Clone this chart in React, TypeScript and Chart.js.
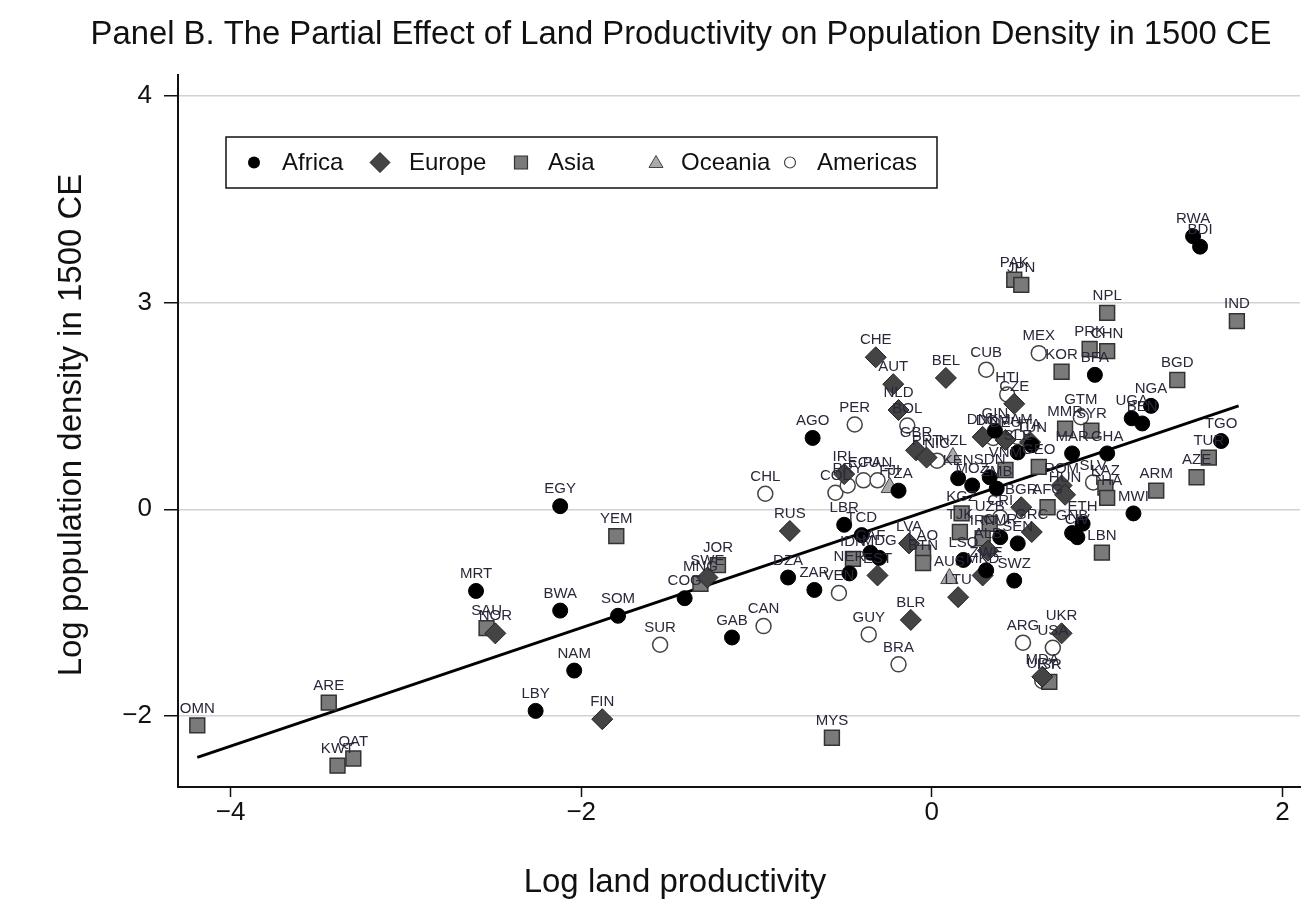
import React, { useEffect, useRef } from "react";
import { Chart, registerables } from "chart.js";

Chart.register(...registerables);

const FONT = '"Liberation Sans", Arial, Helvetica, sans-serif';

const titleText = "Panel B. The Partial Effect of Land Productivity on Population Density in 1500 CE";
const xTitle = "Log land productivity";
const yTitle = "Log population density in 1500 CE";

const xTickValues = [-4, -2, 0, 2];
const xTickLabels = ["\u22124", "\u22122", "0", "2"];
const yTickValues = [-2, 0, 2, 4];
const yTickLabels = ["\u22122", "0", "3", "4"];

const legendNames = ["Africa", "Europe", "Asia", "Oceania", "Americas"];

const africaLabels = ["EGY","MRT","BWA","SOM","NAM","LBY","COG","GAB","DZA","ZAR","LBR","TCD","CAF","MDG","NER","AGO","TZA","KEN","BFA","NGA","UGA","BEN","TGO","RWA","BDI","GHA","MAR","MWI","SWZ","ETH","GNB","CIV","CMR","SEN","ZWE","LSO","GIN","SLE","TUN","SDN","MOZ","ZMB"];
const africaX = [-2.12,-2.60,-2.12,-1.79,-2.04,-2.26,-1.41,-1.14,-0.82,-0.67,-0.50,-0.40,-0.35,-0.30,-0.47,-0.68,-0.19,0.15,0.93,1.25,1.14,1.20,1.65,1.49,1.53,1.00,0.80,1.15,0.47,0.86,0.80,0.83,0.39,0.49,0.31,0.18,0.36,0.49,0.57,0.33,0.23,0.37];
const africaY = [0.03,-0.79,-0.98,-1.03,-1.56,-1.95,-0.86,-1.24,-0.66,-0.78,-0.15,-0.25,-0.42,-0.47,-0.62,0.69,0.18,0.30,1.30,1.00,0.88,0.83,0.66,2.64,2.54,0.54,0.54,-0.04,-0.69,-0.14,-0.23,-0.27,-0.27,-0.33,-0.59,-0.49,0.76,0.55,0.62,0.31,0.23,0.20];

const europeLabels = ["NOR","FIN","SWE","RUS","CHE","AUT","BEL","NLD","GBR","PRT","IRL","EST","LVA","BLR","UKR","MDA","DNK","DEU","CZE","ITA","ROM","HUN","BGR","GRC","ALB","MKD","LTU"];
const europeX = [-2.49,-1.88,-1.28,-0.81,-0.32,-0.22,0.08,-0.19,-0.09,-0.03,-0.50,-0.31,-0.13,-0.12,0.74,0.63,0.29,0.42,0.47,0.56,0.74,0.76,0.51,0.57,0.32,0.29,0.15];
const europeY = [-1.20,-2.03,-0.66,-0.21,1.47,1.21,1.27,0.96,0.57,0.50,0.34,-0.64,-0.33,-1.07,-1.20,-1.62,0.70,0.67,1.02,0.65,0.23,0.14,0.02,-0.22,-0.40,-0.64,-0.85];

const asiaLabels = ["OMN","ARE","KWT","QAT","SAU","YEM","JOR","MNG","MYS","IDN","LAO","BTN","PAK","JPN","NPL","IND","PRK","CHN","KOR","BGD","TUR","AZE","ARM","LBN","MMR","SYR","KAZ","THA","VNM","GEO","UZB","KGZ","TJK","IRN","AFG","ISR"];
const asiaX = [-4.19,-3.44,-3.39,-3.30,-2.54,-1.80,-1.22,-1.32,-0.57,-0.45,-0.05,-0.05,0.47,0.51,1.00,1.74,0.90,1.00,0.74,1.40,1.58,1.51,1.28,0.97,0.76,0.91,0.99,1.00,0.42,0.61,0.33,0.17,0.16,0.29,0.66,0.67];
const asiaY = [-2.09,-1.87,-2.48,-2.41,-1.15,-0.26,-0.54,-0.72,-2.21,-0.48,-0.42,-0.52,2.22,2.17,1.90,1.82,1.55,1.53,1.33,1.25,0.50,0.31,0.18,-0.42,0.78,0.76,0.21,0.11,0.38,0.41,-0.14,-0.04,-0.22,-0.28,0.02,-1.67];

const oceaniaLabels = ["NZL","FJI","AUS"];
const oceaniaX = [0.12,-0.24,0.10];
const oceaniaY = [0.50,0.21,-0.67];

const americasLabels = ["SUR","CAN","CHL","GUY","BRA","VEN","PER","COL","PRY","ECU","PAN","BOL","NIC","CUB","HTI","MEX","GTM","DOM","JAM","SLV","CRI","ARG","USA","URY"];
const americasX = [-1.55,-0.96,-0.95,-0.36,-0.19,-0.53,-0.44,-0.55,-0.48,-0.39,-0.31,-0.14,0.03,0.31,0.43,0.61,0.85,0.35,0.49,0.92,0.39,0.52,0.69,0.63];
const americasY = [-1.31,-1.13,0.15,-1.21,-1.50,-0.81,0.82,0.16,0.23,0.28,0.28,0.81,0.47,1.35,1.11,1.51,0.89,0.69,0.70,0.26,-0.08,-1.29,-1.34,-1.66];

const fitX = [-4.19, 1.75];
const fitY = [-2.40, 1.00];

const toPoints = (xs: number[], ys: number[]) => xs.map((x, i) => ({ x, y: ys[i] }));

const labelPlugin = {
  id: "pointLabels",
  afterDatasetsDraw(chart: any) {
    const ctx = chart.ctx;
    ctx.save();
    ctx.font = `15px ${FONT}`;
    ctx.fillStyle = "#28283a";
    ctx.textAlign = "center";
    ctx.textBaseline = "middle";
    chart.data.datasets.forEach((ds: any, di: number) => {
      const labels = ds.pointLabels;
      if (!labels) return;
      const meta = chart.getDatasetMeta(di);
      meta.data.forEach((el: any, i: number) => {
        ctx.fillText(labels[i], el.x, el.y - 17);
      });
    });
    ctx.restore();
  },
};

const decorPlugin = {
  id: "decor",
  afterDraw(chart: any) {
    const ctx = chart.ctx;
    const ca = chart.chartArea;
    ctx.save();
    ctx.fillStyle = "#111";
    ctx.textAlign = "center";
    ctx.textBaseline = "middle";
    ctx.font = `32.8px ${FONT}`;
    ctx.fillText(titleText, 681, 35);
    ctx.font = `33px ${FONT}`;
    ctx.fillText(xTitle, 675, 883);
    ctx.save();
    ctx.translate(72, 425);
    ctx.rotate(-Math.PI / 2);
    ctx.fillText(yTitle, 0, 0);
    ctx.restore();

    // legend box
    const bx = ca.left + 48;
    const by = ca.top + 62;
    const bw = 711;
    const bh = 51;
    ctx.fillStyle = "#fff";
    ctx.fillRect(bx, by, bw, bh);
    ctx.strokeStyle = "#111";
    ctx.lineWidth = 1.5;
    ctx.strokeRect(bx, by, bw, bh);
    const cy = by + bh / 2;
    const markerX = [28, 154, 295, 430, 564];
    const textX = [56, 183, 322, 455, 591];
    ctx.font = `24px ${FONT}`;
    ctx.textAlign = "left";
    legendNames.forEach((name, i) => {
      const mx = bx + markerX[i];
      ctx.beginPath();
      if (i === 0) {
        ctx.arc(mx, cy, 6, 0, Math.PI * 2);
        ctx.fillStyle = "#000";
        ctx.fill();
      } else if (i === 1) {
        ctx.moveTo(mx - 10, cy);
        ctx.lineTo(mx, cy - 10);
        ctx.lineTo(mx + 10, cy);
        ctx.lineTo(mx, cy + 10);
        ctx.closePath();
        ctx.fillStyle = "#444";
        ctx.fill();
        ctx.strokeStyle = "#222";
        ctx.lineWidth = 1;
        ctx.stroke();
      } else if (i === 2) {
        ctx.rect(mx - 6.5, cy - 6.5, 13, 13);
        ctx.fillStyle = "#7a7a7a";
        ctx.fill();
        ctx.strokeStyle = "#333";
        ctx.lineWidth = 1.2;
        ctx.stroke();
      } else if (i === 3) {
        ctx.moveTo(mx, cy - 7);
        ctx.lineTo(mx + 7, cy + 5);
        ctx.lineTo(mx - 7, cy + 5);
        ctx.closePath();
        ctx.fillStyle = "#aaa";
        ctx.fill();
        ctx.strokeStyle = "#444";
        ctx.lineWidth = 1;
        ctx.stroke();
      } else {
        ctx.arc(mx, cy, 5.5, 0, Math.PI * 2);
        ctx.fillStyle = "#fff";
        ctx.fill();
        ctx.strokeStyle = "#444";
        ctx.lineWidth = 1.2;
        ctx.stroke();
      }
      ctx.fillStyle = "#111";
      ctx.fillText(name, bx + textX[i], cy + 1);
    });
    ctx.restore();
  },
};

export default function App() {
  const ref = useRef<HTMLCanvasElement | null>(null);
  useEffect(() => {
    document.body.style.margin = "0";
    document.body.style.background = "#fff";
    const canvas = ref.current;
    if (!canvas) return;
    const chart = new Chart(canvas, {
      type: "scatter",
      data: {
        datasets: [
          {
            label: "Africa",
            data: toPoints(africaX, africaY),
            pointStyle: "circle",
            pointRadius: 7.5,
            backgroundColor: "#000",
            borderColor: "#000",
            borderWidth: 1,
            pointLabels: africaLabels,
          } as any,
          {
            label: "Europe",
            data: toPoints(europeX, europeY),
            pointStyle: "rectRot",
            pointRadius: 10.5,
            backgroundColor: "#444",
            borderColor: "#222",
            borderWidth: 1,
            pointLabels: europeLabels,
          } as any,
          {
            label: "Asia",
            data: toPoints(asiaX, asiaY),
            pointStyle: "rect",
            pointRadius: 10.5,
            backgroundColor: "#7a7a7a",
            borderColor: "#333",
            borderWidth: 1.5,
            pointLabels: asiaLabels,
          } as any,
          {
            label: "Oceania",
            data: toPoints(oceaniaX, oceaniaY),
            pointStyle: "triangle",
            pointRadius: 10,
            backgroundColor: "#aaa",
            borderColor: "#444",
            borderWidth: 1,
            pointLabels: oceaniaLabels,
          } as any,
          {
            label: "Americas",
            data: toPoints(americasX, americasY),
            pointStyle: "circle",
            pointRadius: 7.5,
            backgroundColor: "#fff",
            borderColor: "#444",
            borderWidth: 1.5,
            pointLabels: americasLabels,
          } as any,
          {
            label: "Fit",
            type: "line",
            data: toPoints(fitX, fitY),
            borderColor: "#000",
            borderWidth: 3,
            pointRadius: 0,
            fill: false,
          } as any,
        ],
      },
      options: {
        animation: false,
        responsive: false,
        layout: { autoPadding: false, padding: { top: 75, right: 4, left: 0, bottom: 0 } },
        plugins: {
          legend: { display: false },
          tooltip: { enabled: false },
          title: { display: false },
        },
        scales: {
          x: {
            type: "linear",
            min: -4.3,
            max: 2.1,
            afterBuildTicks: (s: any) => {
              s.ticks = xTickValues.map((v) => ({ value: v }));
            },
            afterFit: (s: any) => {
              s.height = 118;
              s.paddingLeft = 0;
              s.paddingRight = 0;
            },
            ticks: {
              callback: (_v: any, i: number) => xTickLabels[i],
              font: { family: FONT, size: 26 },
              color: "#111",
              padding: 0,
              maxRotation: 0,
              autoSkip: false,
            },
            grid: { drawOnChartArea: false, tickLength: 10, tickColor: "#111", tickWidth: 1.5 },
            border: { color: "#111", width: 2 },
          },
          y: {
            type: "linear",
            min: -2.686,
            max: 4.2,
            afterBuildTicks: (s: any) => {
              s.ticks = yTickValues.map((v) => ({ value: v }));
            },
            afterFit: (s: any) => {
              s.width = 178;
              s.paddingTop = 0;
              s.paddingBottom = 0;
            },
            ticks: {
              callback: (_v: any, i: number) => yTickLabels[i],
              font: { family: FONT, size: 26 },
              color: "#111",
              padding: 12,
              autoSkip: false,
            },
            grid: { color: "#d2d2d2", lineWidth: 1.5, tickLength: 14, tickColor: "#111", tickWidth: 1.5 },
            border: { color: "#111", width: 2 },
          },
        },
      } as any,
      plugins: [labelPlugin, decorPlugin],
    });
    return () => chart.destroy();
  }, []);
  return (
    <div style={{ width: 1304, height: 905, background: "#fff" }}>
      <canvas ref={ref} width={1304} height={905} style={{ display: "block" }} />
    </div>
  );
}
